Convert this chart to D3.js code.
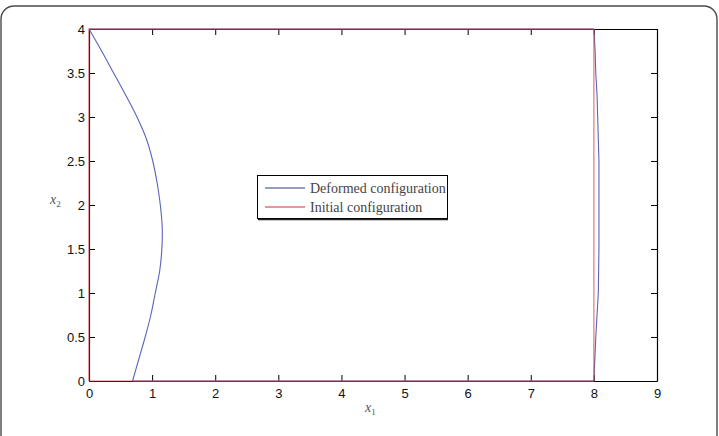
<!DOCTYPE html>
<html>
<head>
<meta charset="utf-8">
<script src="https://cdn.jsdelivr.net/npm/d3@7"></script>
<style>
  body { margin: 0; background: #fff; }
  svg { display: block; }
</style>
</head>
<body>
<svg id="chart" width="719" height="436"></svg>
<script>
// ---- data ----
const xTicks = [0, 1, 2, 3, 4, 5, 6, 7, 8, 9];
const yTicks = [0, 0.5, 1, 1.5, 2, 2.5, 3, 3.5, 4];
const legendLabels = ["Deformed configuration", "Initial configuration"];

// initial configuration (rectangle)
const initialX = [0, 8, 8, 0, 0];
const initialY = [0, 0, 4, 4, 0];

// deformed configuration: bottom edge, right edge (bottom->top), top edge, left edge (top->bottom)
const deformedX = [0.69, 8.00, 8.03, 8.07, 8.08, 8.08, 8.08, 8.06, 8.05, 8.03, 8.02, 8.00,
                   0.00, 0.20, 0.39, 0.58, 0.76, 0.91, 1.01, 1.08, 1.13, 1.16, 1.16, 1.15, 1.12, 1.05, 0.98, 0.89, 0.79, 0.69];
const deformedY = [0.00, 0.00, 0.50, 1.00, 1.50, 2.00, 2.50, 3.00, 3.25, 3.50, 3.75, 4.00,
                   4.00, 3.75, 3.50, 3.25, 3.00, 2.75, 2.50, 2.25, 2.00, 1.75, 1.60, 1.45, 1.25, 1.00, 0.75, 0.50, 0.25, 0.00];
const leftEdgeStart = 12; // index where the curved left edge begins

// ---- layout ----
const svg = d3.select("#chart");
const L = 89, R = 657, T = 29, B = 381;
const x = d3.scaleLinear().domain([0, 9]).range([L, R]);
const y = d3.scaleLinear().domain([0, 4]).range([B, T]);

// outer rounded frame
svg.append("rect")
  .attr("x", 1).attr("y", 6).attr("width", 716).attr("height", 445)
  .attr("rx", 13).attr("ry", 13)
  .attr("fill", "none").attr("stroke", "#4a4a4a").attr("stroke-width", 1.4);

// axes box with ticks inside
const fmt = d => String(d);
const tickLen = 6;
const axisFont = "Liberation Sans, Arial, sans-serif";

const gx = svg.append("g").attr("transform", `translate(0,${B})`)
  .call(d3.axisBottom(x).tickValues(xTicks).tickFormat(fmt).tickSizeInner(-tickLen).tickSizeOuter(0).tickPadding(10));
const gxTop = svg.append("g").attr("transform", `translate(0,${T})`)
  .call(d3.axisTop(x).tickValues(xTicks).tickFormat("").tickSizeInner(-tickLen).tickSizeOuter(0));
const gy = svg.append("g").attr("transform", `translate(${L},0)`)
  .call(d3.axisLeft(y).tickValues(yTicks).tickFormat(fmt).tickSizeInner(-tickLen).tickSizeOuter(0).tickPadding(4));
const gyRight = svg.append("g").attr("transform", `translate(${R},0)`)
  .call(d3.axisRight(y).tickValues(yTicks).tickFormat("").tickSizeInner(-tickLen).tickSizeOuter(0));

[gx, gxTop, gy, gyRight].forEach(g => {
  g.select(".domain").attr("stroke", "#000").attr("stroke-width", 1.2);
  g.selectAll(".tick line").attr("stroke", "#000").attr("stroke-width", 1);
  g.selectAll("text").attr("fill", "#111").style("font-family", axisFont).style("font-size", "13px");
});
gx.selectAll(".tick text").attr("dy", "0.55em");

// lines
const deformed = deformedX.map((v, i) => [v, deformedY[i]]);
const initial = initialX.map((v, i) => [v, initialY[i]]);
const line = d3.line().x(d => x(d[0])).y(d => y(d[1]));
const smooth = d3.line().x(d => x(d[0])).y(d => y(d[1])).curve(d3.curveCatmullRom.alpha(0.5));

const blue = "#5c63b8";
svg.append("path").attr("d", line(deformed.slice(0, leftEdgeStart + 1)))
  .attr("fill", "none").attr("stroke", blue).attr("stroke-width", 1.1).attr("stroke-linejoin", "round");
svg.append("path").attr("d", smooth(deformed.slice(leftEdgeStart)))
  .attr("fill", "none").attr("stroke", blue).attr("stroke-width", 1.1).attr("stroke-linejoin", "round");
svg.append("path").attr("d", line(initial))
  .attr("fill", "none").attr("stroke", "#d9383f").attr("stroke-width", 1.1).attr("stroke-opacity", 0.75);

// axis labels
const serif = "Liberation Serif, DejaVu Serif, serif";
const xl = svg.append("text").attr("x", 365).attr("y", 412)
  .style("font-family", serif).style("font-size", "14px").attr("fill", "#555");
xl.append("tspan").style("font-style", "italic").text("x");
xl.append("tspan").attr("dy", 3).style("font-size", "9px").text("1");

const yl = svg.append("text").attr("x", 50).attr("y", 204)
  .style("font-family", serif).style("font-size", "14px").attr("fill", "#555");
yl.append("tspan").style("font-style", "italic").text("x");
yl.append("tspan").attr("dy", 3).style("font-size", "9px").text("2");

// legend
const lg = svg.append("g");
lg.append("rect").attr("x", 257.5).attr("y", 175.5).attr("width", 190).attr("height", 43)
  .attr("fill", "#fff").attr("stroke", "#000").attr("stroke-width", 1);
lg.append("line").attr("x1", 258).attr("x2", 448).attr("y1", 219.5).attr("y2", 219.5)
  .attr("stroke", "#222").attr("stroke-width", 1.5);
const legendColors = ["#2f3f78", "#c8303a"];
legendLabels.forEach((lab, i) => {
  const cy = 188 + i * 19;
  lg.append("line").attr("x1", 265).attr("x2", 305).attr("y1", cy).attr("y2", cy)
    .attr("stroke", legendColors[i]).attr("stroke-width", 1);
  lg.append("text").attr("x", 310).attr("y", cy + 4.5).text(lab)
    .style("font-family", "Liberation Serif, DejaVu Serif, serif").style("font-size", "14px").attr("fill", "#444");
});
</script>
</body>
</html>
